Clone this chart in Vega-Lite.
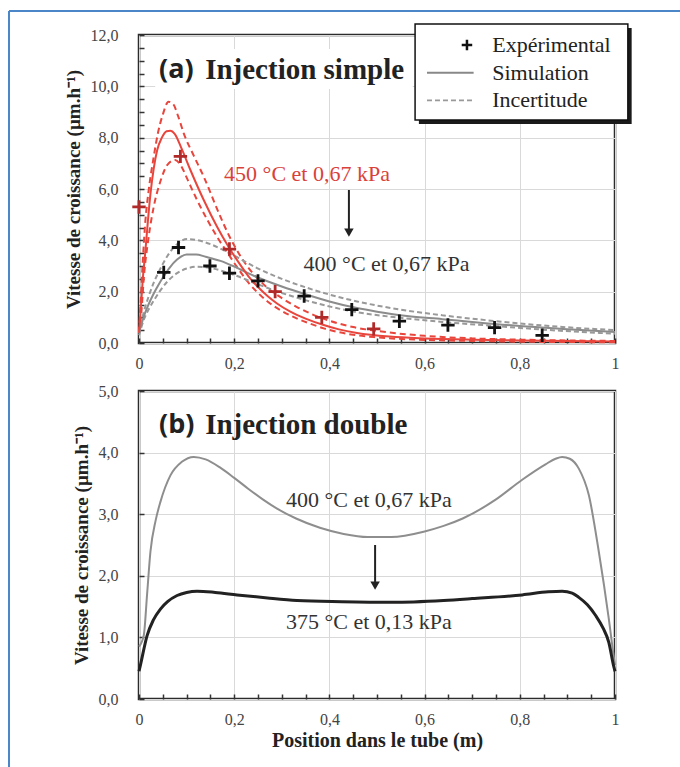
{
  "$schema": "https://vega.github.io/schema/vega-lite/v6.json",
  "autosize": {"type": "pad"},
  "padding": {"left": 6, "top": 8, "right": 0, "bottom": 0},
  "background": "white",
  "bounds": "flush",
  "spacing": 48,
  "config": {
    "view": {"stroke": "#2b2b2b", "strokeWidth": 2.5},
    "font": "Liberation Serif, serif",
    "text": {"font": "Liberation Serif, serif"},
    "axis": {
      "domain": false,
      "gridColor": "#d9d9d9",
      "gridWidth": 1,
      "tickColor": "#333333",
      "tickWidth": 1.5,
      "tickSize": -5,
      "labelFont": "Liberation Serif, serif",
      "labelFontSize": 16,
      "labelColor": "#444444",
      "labelFlush": false,
      "labelOverlap": false,
      "labelBound": false,
      "titleFont": "Liberation Serif, serif",
      "titleFontWeight": "bold",
      "titleColor": "#222222"
    }
  },
  "datasets": {
    "redSim": [
      {"x":0,"y":0.4},{"x":0.004,"y":1.4},{"x":0.008,"y":2.5},{"x":0.013,"y":3.5},{"x":0.018,"y":4.6},{"x":0.024,"y":5.8},{"x":0.031,"y":6.8},{"x":0.038,"y":7.5},{"x":0.048,"y":8.0},{"x":0.058,"y":8.25},{"x":0.066,"y":8.27},{"x":0.075,"y":8.15},{"x":0.09,"y":7.55},{"x":0.108,"y":6.74},{"x":0.136,"y":5.57},{"x":0.164,"y":4.53},{"x":0.188,"y":3.75},{"x":0.21,"y":3.12},{"x":0.23,"y":2.6},{"x":0.25,"y":2.18},{"x":0.27,"y":1.83},{"x":0.29,"y":1.54},{"x":0.318,"y":1.22},{"x":0.35,"y":0.95},{"x":0.388,"y":0.7},{"x":0.42,"y":0.53},{"x":0.458,"y":0.39},{"x":0.527,"y":0.25},{"x":0.6,"y":0.18},{"x":0.7,"y":0.13},{"x":0.8,"y":0.1},{"x":0.9,"y":0.08},{"x":1.0,"y":0.06}
    ],
    "redUp": [
      {"x":0,"y":0.4},{"x":0.004,"y":1.8},{"x":0.008,"y":3.2},{"x":0.013,"y":4.66},{"x":0.02,"y":5.9},{"x":0.031,"y":7.26},{"x":0.04,"y":8.2},{"x":0.05,"y":8.9},{"x":0.062,"y":9.4},{"x":0.072,"y":9.3},{"x":0.082,"y":8.85},{"x":0.094,"y":8.17},{"x":0.115,"y":7.3},{"x":0.136,"y":6.48},{"x":0.171,"y":4.92},{"x":0.19,"y":4.15},{"x":0.21,"y":3.48},{"x":0.23,"y":2.93},{"x":0.25,"y":2.5},{"x":0.27,"y":2.15},{"x":0.3,"y":1.75},{"x":0.33,"y":1.42},{"x":0.36,"y":1.15},{"x":0.39,"y":0.93},{"x":0.45,"y":0.62},{"x":0.5,"y":0.47},{"x":0.6,"y":0.28},{"x":0.7,"y":0.18},{"x":0.8,"y":0.13},{"x":0.9,"y":0.1},{"x":1.0,"y":0.08}
    ],
    "redLo": [
      {"x":0,"y":0.4},{"x":0.005,"y":1.2},{"x":0.01,"y":2.5},{"x":0.02,"y":4.1},{"x":0.031,"y":5.31},{"x":0.045,"y":6.3},{"x":0.06,"y":6.95},{"x":0.076,"y":7.13},{"x":0.09,"y":6.85},{"x":0.1,"y":6.45},{"x":0.122,"y":5.57},{"x":0.164,"y":4.14},{"x":0.19,"y":3.4},{"x":0.21,"y":2.85},{"x":0.23,"y":2.35},{"x":0.25,"y":1.95},{"x":0.27,"y":1.62},{"x":0.3,"y":1.25},{"x":0.33,"y":0.97},{"x":0.36,"y":0.75},{"x":0.39,"y":0.56},{"x":0.45,"y":0.32},{"x":0.5,"y":0.22},{"x":0.6,"y":0.12},{"x":0.7,"y":0.08},{"x":0.8,"y":0.05},{"x":1.0,"y":0.03}
    ],
    "graySim": [
      {"x":0,"y":0.4},{"x":0.01,"y":1.03},{"x":0.02,"y":1.5},{"x":0.031,"y":1.93},{"x":0.042,"y":2.3},{"x":0.052,"y":2.6},{"x":0.065,"y":2.95},{"x":0.08,"y":3.25},{"x":0.1,"y":3.45},{"x":0.12,"y":3.45},{"x":0.14,"y":3.36},{"x":0.171,"y":3.2},{"x":0.2,"y":2.98},{"x":0.241,"y":2.62},{"x":0.3,"y":2.2},{"x":0.353,"y":1.88},{"x":0.4,"y":1.62},{"x":0.458,"y":1.36},{"x":0.5,"y":1.22},{"x":0.563,"y":1.05},{"x":0.637,"y":0.93},{"x":0.7,"y":0.82},{"x":0.8,"y":0.66},{"x":0.9,"y":0.54},{"x":1.0,"y":0.43}
    ],
    "grayUp": [
      {"x":0,"y":0.4},{"x":0.01,"y":1.2},{"x":0.02,"y":1.8},{"x":0.031,"y":2.35},{"x":0.045,"y":2.9},{"x":0.06,"y":3.4},{"x":0.08,"y":3.85},{"x":0.101,"y":4.05},{"x":0.12,"y":4.02},{"x":0.15,"y":3.85},{"x":0.2,"y":3.4},{"x":0.248,"y":2.92},{"x":0.3,"y":2.5},{"x":0.353,"y":2.15},{"x":0.458,"y":1.62},{"x":0.55,"y":1.3},{"x":0.637,"y":1.08},{"x":0.75,"y":0.85},{"x":0.85,"y":0.68},{"x":1.0,"y":0.5}
    ],
    "grayLo": [
      {"x":0,"y":0.3},{"x":0.01,"y":0.9},{"x":0.02,"y":1.3},{"x":0.031,"y":1.65},{"x":0.045,"y":2.05},{"x":0.06,"y":2.4},{"x":0.08,"y":2.72},{"x":0.1,"y":2.9},{"x":0.122,"y":2.97},{"x":0.15,"y":2.92},{"x":0.2,"y":2.65},{"x":0.248,"y":2.3},{"x":0.3,"y":1.95},{"x":0.353,"y":1.65},{"x":0.458,"y":1.2},{"x":0.55,"y":0.98},{"x":0.637,"y":0.82},{"x":0.75,"y":0.66},{"x":0.85,"y":0.52},{"x":1.0,"y":0.36}
    ],
    "expBlack": [
      {"x":0.052,"y":2.75},{"x":0.083,"y":3.72},{"x":0.149,"y":3.0},{"x":0.19,"y":2.72},{"x":0.25,"y":2.42},{"x":0.347,"y":1.83},{"x":0.447,"y":1.3},{"x":0.547,"y":0.85},{"x":0.649,"y":0.7},{"x":0.747,"y":0.6},{"x":0.847,"y":0.3}
    ],
    "expRed": [
      {"x":0.0,"y":5.3},{"x":0.087,"y":7.27},{"x":0.19,"y":3.66},{"x":0.286,"y":2.0},{"x":0.384,"y":1.0},{"x":0.493,"y":0.55}
    ],
    "botGray": [
      {"x":0,"y":0.85},{"x":0.01,"y":1.03},{"x":0.017,"y":1.7},{"x":0.024,"y":2.39},{"x":0.035,"y":2.9},{"x":0.045,"y":3.2},{"x":0.066,"y":3.63},{"x":0.09,"y":3.85},{"x":0.115,"y":3.93},{"x":0.14,"y":3.89},{"x":0.17,"y":3.76},{"x":0.2,"y":3.59},{"x":0.23,"y":3.41},{"x":0.26,"y":3.24},{"x":0.29,"y":3.09},{"x":0.33,"y":2.93},{"x":0.38,"y":2.78},{"x":0.43,"y":2.68},{"x":0.48,"y":2.63},{"x":0.53,"y":2.63},{"x":0.6,"y":2.72},{"x":0.64,"y":2.81},{"x":0.68,"y":2.93},{"x":0.75,"y":3.24},{"x":0.805,"y":3.56},{"x":0.854,"y":3.81},{"x":0.875,"y":3.9},{"x":0.889,"y":3.93},{"x":0.905,"y":3.9},{"x":0.924,"y":3.74},{"x":0.945,"y":3.31},{"x":0.966,"y":2.39},{"x":0.987,"y":1.3},{"x":0.997,"y":0.71},{"x":1.0,"y":0.55}
    ],
    "botBlack": [
      {"x":0,"y":0.45},{"x":0.003,"y":0.55},{"x":0.017,"y":1.03},{"x":0.03,"y":1.28},{"x":0.045,"y":1.46},{"x":0.06,"y":1.58},{"x":0.08,"y":1.68},{"x":0.1,"y":1.73},{"x":0.122,"y":1.75},{"x":0.16,"y":1.73},{"x":0.206,"y":1.69},{"x":0.27,"y":1.64},{"x":0.332,"y":1.6},{"x":0.426,"y":1.58},{"x":0.532,"y":1.57},{"x":0.64,"y":1.6},{"x":0.7,"y":1.63},{"x":0.805,"y":1.69},{"x":0.86,"y":1.74},{"x":0.889,"y":1.75},{"x":0.91,"y":1.72},{"x":0.924,"y":1.65},{"x":0.942,"y":1.53},{"x":0.959,"y":1.36},{"x":0.975,"y":1.15},{"x":0.987,"y":0.92},{"x":0.997,"y":0.54},{"x":1.0,"y":0.45}
    ]
  },
  "vconcat": [
    {
      "width": 476,
      "height": 308,
      "encoding": {
        "x": {
          "field": "x", "type": "quantitative",
          "scale": {"domain": [0, 1], "nice": false, "zero": false},
          "axis": {
            "title": null,
            "orient": "bottom",
            "values": [0,0.05,0.1,0.15,0.2,0.25,0.3,0.35,0.4,0.45,0.5,0.55,0.6,0.65,0.7,0.75,0.8,0.85,0.9,0.95,1],
            "grid": true,
            "gridOpacity": {"condition": {"test": "abs(datum.value*5-round(datum.value*5))<0.001", "value": 1}, "value": 0},
            "labelExpr": "abs(datum.value*5-round(datum.value*5))<0.001 ? (datum.value==0 ? '0' : (datum.value==1 ? '1' : replace(format(datum.value,'.1f'),'.',','))) : ''",
            "labelPadding": 17
          }
        },
        "y": {
          "field": "y", "type": "quantitative",
          "scale": {"domain": [0, 12], "nice": false, "zero": false},
          "axis": {
            "title": "Vitesse de croissance (µm.h⁻¹)",
            "titleFontSize": 19,
            "titlePadding": 7,
            "values": [0,0.5,1,1.5,2,2.5,3,3.5,4,4.5,5,5.5,6,6.5,7,7.5,8,8.5,9,9.5,10,10.5,11,11.5,12],
            "grid": true,
            "gridOpacity": {"condition": {"test": "abs(datum.value/2-round(datum.value/2))<0.001", "value": 1}, "value": 0},
            "labelExpr": "abs(datum.value/2-round(datum.value/2))<0.001 ? replace(format(datum.value,'.1f'),'.',',') : ''",
            "labelPadding": 26
          }
        }
      },
      "layer": [
        {
          "data": {"values": [{"x": -0.2731, "y": 12.935, "y2": -16.56}]},
          "mark": {"type": "rule", "color": "#4a86c8", "strokeWidth": 2},
          "encoding": {"y2": {"field": "y2"}}
        },
        {
          "data": {"values": [{"x": -0.2731, "x2": 1.1366, "y": 12.935}]},
          "mark": {"type": "rule", "color": "#4a86c8", "strokeWidth": 2},
          "encoding": {"x2": {"field": "x2"}}
        },
        {
          "data": {"values": [{"x": 0.034, "x2": 0.575, "y": 11.45, "y2": 9.9}]},
          "mark": {"type": "rect", "fill": "white"},
          "encoding": {"x2": {"field": "x2"}, "y2": {"field": "y2"}}
        },
        {
          "data": {"name": "redUp"},
          "mark": {"type": "line", "color": "#e8453c", "strokeWidth": 2, "strokeDash": [6, 4], "interpolate": "monotone"}
        },
        {
          "data": {"name": "redLo"},
          "mark": {"type": "line", "color": "#e8453c", "strokeWidth": 2, "strokeDash": [6, 4], "interpolate": "monotone"}
        },
        {
          "data": {"name": "grayUp"},
          "mark": {"type": "line", "color": "#999999", "strokeWidth": 2, "strokeDash": [5, 3], "interpolate": "monotone"}
        },
        {
          "data": {"name": "grayLo"},
          "mark": {"type": "line", "color": "#999999", "strokeWidth": 2, "strokeDash": [5, 3], "interpolate": "monotone"}
        },
        {
          "data": {"name": "graySim"},
          "mark": {"type": "line", "color": "#8c8c8c", "strokeWidth": 2, "interpolate": "monotone"}
        },
        {
          "data": {"name": "redSim"},
          "mark": {"type": "line", "color": "#e8453c", "strokeWidth": 2, "interpolate": "monotone"}
        },
        {
          "data": {"name": "expRed"},
          "mark": {"type": "point", "shape": "M-1,0L1,0M0,-1L0,1", "filled": false, "stroke": "#b02a2a", "strokeWidth": 2.8, "size": 180, "opacity": 1}
        },
        {
          "data": {"name": "expBlack"},
          "mark": {"type": "point", "shape": "M-1,0L1,0M0,-1L0,1", "filled": false, "stroke": "#111111", "strokeWidth": 2.8, "size": 180, "opacity": 1}
        },
        {
          "data": {"values": [{"x": 0.042, "y": 10.63, "t": "(a)"}]},
          "mark": {"type": "text", "align": "left", "baseline": "middle", "font": "Open Sans", "fontWeight": "bold", "fontSize": 27, "color": "#222222"},
          "encoding": {"text": {"field": "t"}}
        },
        {
          "data": {"values": [{"x": 0.139, "y": 10.63, "t": "Injection simple"}]},
          "mark": {"type": "text", "align": "left", "baseline": "middle", "font": "Liberation Serif, serif", "fontWeight": "bold", "fontSize": 29, "color": "#222222"},
          "encoding": {"text": {"field": "t"}}
        },
        {
          "data": {"values": [{"x": 0.353, "y": 6.58, "t": "450 °C et 0,67 kPa"}]},
          "mark": {"type": "text", "align": "center", "baseline": "middle", "font": "Liberation Serif, serif", "fontSize": 22, "color": "#d9413a"},
          "encoding": {"text": {"field": "t"}}
        },
        {
          "data": {"values": [{"x": 0.52, "y": 3.08, "t": "400 °C et 0,67 kPa"}]},
          "mark": {"type": "text", "align": "center", "baseline": "middle", "font": "Liberation Serif, serif", "fontSize": 22, "color": "#333333"},
          "encoding": {"text": {"field": "t"}}
        },
        {
          "data": {"values": [{"x": 0.441, "y": 5.96, "y2": 4.4}]},
          "mark": {"type": "rule", "color": "#222222", "strokeWidth": 2},
          "encoding": {"y2": {"field": "y2"}}
        },
        {
          "data": {"values": [{"x": 0.441, "y": 4.3}]},
          "mark": {"type": "point", "shape": "triangle-down", "filled": true, "color": "#222222", "size": 90, "opacity": 1}
        },
        {
          "data": {"values": [{"x": 0.588, "x2": 1.035, "y": 12.27, "y2": 8.53}]},
          "mark": {"type": "rect", "fill": "#1a1a1a"},
          "encoding": {"x2": {"field": "x2"}, "y2": {"field": "y2"}}
        },
        {
          "data": {"values": [{"x": 0.58, "x2": 1.027, "y": 12.43, "y2": 8.69}]},
          "mark": {"type": "rect", "fill": "white", "stroke": "#111111", "strokeWidth": 1.5},
          "encoding": {"x2": {"field": "x2"}, "y2": {"field": "y2"}}
        },
        {
          "data": {"values": [{"x": 0.689, "y": 11.61}]},
          "mark": {"type": "point", "shape": "M-1,0L1,0M0,-1L0,1", "filled": false, "stroke": "#111111", "strokeWidth": 2.5, "size": 110, "opacity": 1}
        },
        {
          "data": {"values": [{"x": 0.605, "x2": 0.703, "y": 10.53}]},
          "mark": {"type": "rule", "color": "#888888", "strokeWidth": 1.8},
          "encoding": {"x2": {"field": "x2"}}
        },
        {
          "data": {"values": [{"x": 0.605, "x2": 0.703, "y": 9.45}]},
          "mark": {"type": "rule", "color": "#999999", "strokeWidth": 1.8, "strokeDash": [5, 3]},
          "encoding": {"x2": {"field": "x2"}}
        },
        {
          "data": {"values": [
            {"x": 0.742, "y": 11.61, "t": "Expérimental"},
            {"x": 0.742, "y": 10.53, "t": "Simulation"},
            {"x": 0.742, "y": 9.45, "t": "Incertitude"}
          ]},
          "mark": {"type": "text", "align": "left", "baseline": "middle", "font": "Liberation Serif, serif", "fontSize": 22, "color": "#222222"},
          "encoding": {"text": {"field": "t"}}
        }
      ]
    },
    {
      "width": 476,
      "height": 308,
      "encoding": {
        "x": {
          "field": "x", "type": "quantitative",
          "scale": {"domain": [0, 1], "nice": false, "zero": false},
          "axis": {
            "title": "Position dans le tube (m)",
            "titleFontSize": 20,
            "titlePadding": 3,
            "orient": "bottom",
            "values": [0,0.05,0.1,0.15,0.2,0.25,0.3,0.35,0.4,0.45,0.5,0.55,0.6,0.65,0.7,0.75,0.8,0.85,0.9,0.95,1],
            "grid": true,
            "gridOpacity": {"condition": {"test": "abs(datum.value*5-round(datum.value*5))<0.001", "value": 1}, "value": 0},
            "labelExpr": "abs(datum.value*5-round(datum.value*5))<0.001 ? (datum.value==0 ? '0' : (datum.value==1 ? '1' : replace(format(datum.value,'.1f'),'.',','))) : ''",
            "labelPadding": 17
          }
        },
        "y": {
          "field": "y", "type": "quantitative",
          "scale": {"domain": [0, 5], "nice": false, "zero": false},
          "axis": {
            "title": "Vitesse de croissance (µm.h⁻¹)",
            "titleFontSize": 19,
            "titlePadding": 7,
            "values": [0,1,2,3,4,5],
            "grid": true,
            "labelExpr": "replace(format(datum.value,'.1f'),'.',',')",
            "labelPadding": 26
          }
        }
      },
      "layer": [
        {
          "data": {"name": "botGray"},
          "mark": {"type": "line", "color": "#8e8e8e", "strokeWidth": 2, "interpolate": "monotone"}
        },
        {
          "data": {"name": "botBlack"},
          "mark": {"type": "line", "color": "#222222", "strokeWidth": 3, "interpolate": "monotone"}
        },
        {
          "data": {"values": [{"x": 0.042, "y": 4.44, "t": "(b)"}]},
          "mark": {"type": "text", "align": "left", "baseline": "middle", "font": "Open Sans", "fontWeight": "bold", "fontSize": 27, "color": "#222222"},
          "encoding": {"text": {"field": "t"}}
        },
        {
          "data": {"values": [{"x": 0.139, "y": 4.44, "t": "Injection double"}]},
          "mark": {"type": "text", "align": "left", "baseline": "middle", "font": "Liberation Serif, serif", "fontWeight": "bold", "fontSize": 29, "color": "#222222"},
          "encoding": {"text": {"field": "t"}}
        },
        {
          "data": {"values": [
            {"x": 0.483, "y": 3.23, "t": "400 °C et 0,67 kPa"},
            {"x": 0.483, "y": 1.25, "t": "375 °C et 0,13 kPa"}
          ]},
          "mark": {"type": "text", "align": "center", "baseline": "middle", "font": "Liberation Serif, serif", "fontSize": 22, "color": "#333333"},
          "encoding": {"text": {"field": "t"}}
        },
        {
          "data": {"values": [{"x": 0.496, "y": 2.5, "y2": 1.9}]},
          "mark": {"type": "rule", "color": "#222222", "strokeWidth": 2},
          "encoding": {"y2": {"field": "y2"}}
        },
        {
          "data": {"values": [{"x": 0.496, "y": 1.84}]},
          "mark": {"type": "point", "shape": "triangle-down", "filled": true, "color": "#222222", "size": 90, "opacity": 1}
        }
      ]
    }
  ]
}
